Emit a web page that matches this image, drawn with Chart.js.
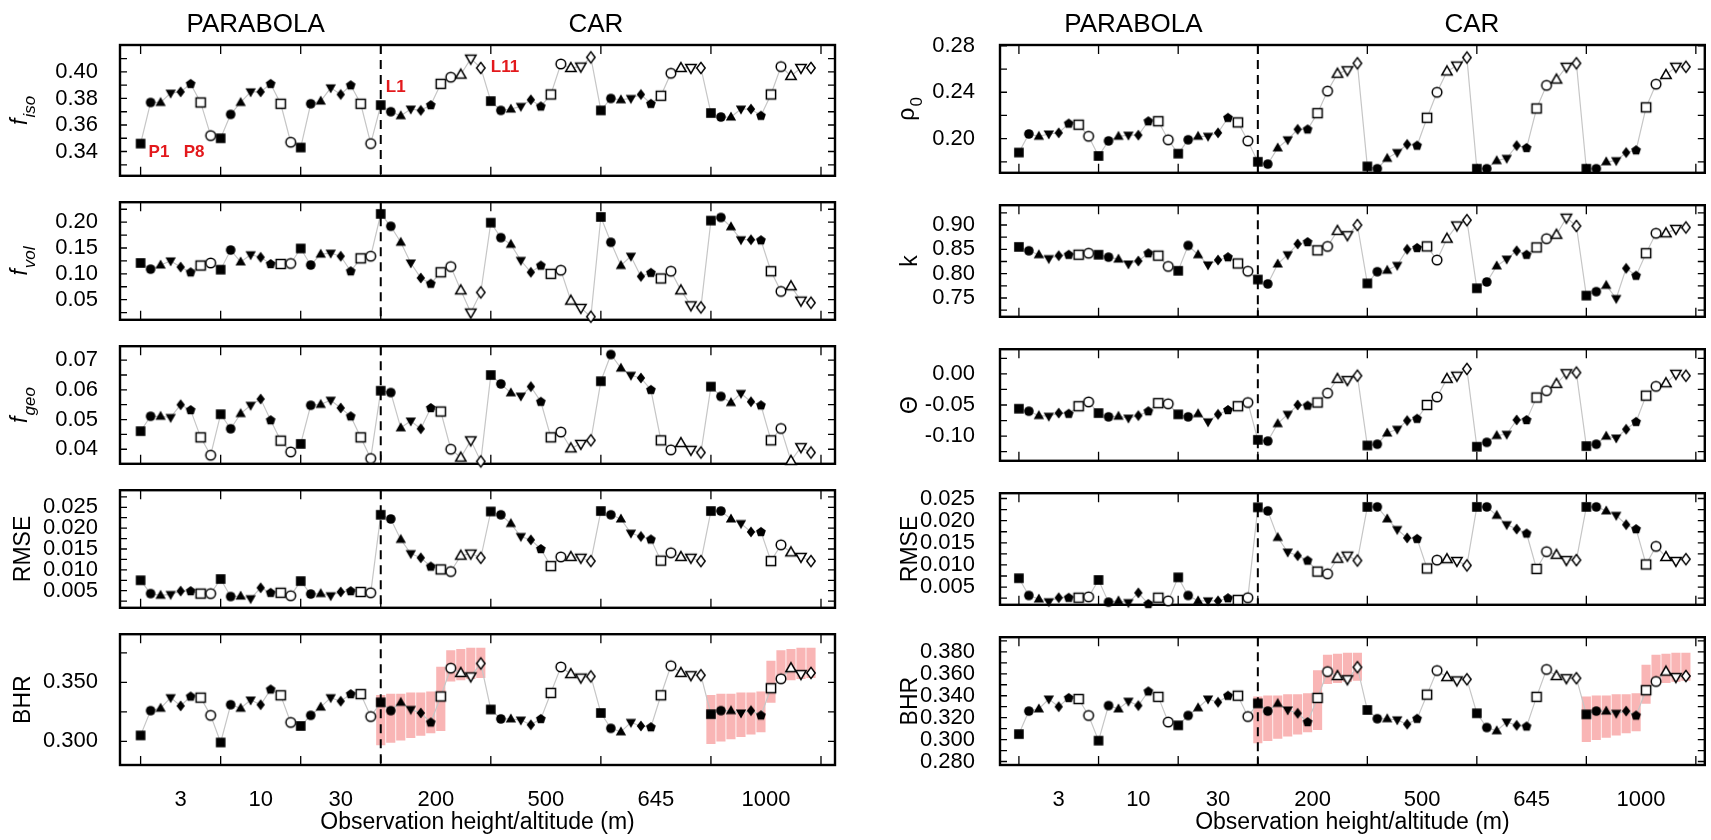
<!DOCTYPE html>
<html>
<head>
<meta charset="utf-8">
<script src="https://cdn.jsdelivr.net/npm/chart.js@4.4.1/dist/chart.umd.min.js"></script>
<style>
  body { margin: 0; background: #fff; width: 1711px; height: 840px; overflow: hidden; position: relative; }
  canvas { position: absolute; }
</style>
</head>
<body>
<script>
// ---- data ----
var parabolaHeights = ['3', '10', '30'];
var carAltitudes = ['200', '500', '645', '1000'];
var parabolaMarkers = ['■', '●', '▲', '▼', '◆', '⬟', '□', '○'];                 // P1..P8
var carMarkers = ['■', '●', '▲', '▼', '◆', '⬟', '□', '○', '△', '▽', '◇'];      // L1..L11
var xTitle = 'Observation height/altitude (m)';

var fIso = [0.346,0.377,0.377,0.384,0.385,0.391,0.377,0.352,
  0.350,0.368,0.377,0.385,0.385,0.391,0.376,0.347,
  0.343,0.376,0.378,0.388,0.383,0.390,0.376,0.346,
  0.375,0.370,0.367,0.372,0.371,0.375,0.391,0.396,0.398,0.410,0.403,
  0.378,0.371,0.372,0.374,0.379,0.374,0.383,0.406,0.403,0.404,0.411,
  0.371,0.380,0.379,0.380,0.383,0.376,0.382,0.399,0.403,0.403,0.403,
  0.369,0.366,0.366,0.372,0.372,0.367,0.383,0.404,0.397,0.403,0.403];
var fVol = [0.121,0.109,0.117,0.125,0.113,0.103,0.116,0.121,
  0.108,0.146,0.123,0.137,0.132,0.119,0.119,0.120,
  0.149,0.117,0.138,0.140,0.134,0.105,0.130,0.134,
  0.216,0.192,0.161,0.121,0.092,0.081,0.103,0.114,0.068,0.025,0.064,
  0.199,0.170,0.157,0.126,0.103,0.116,0.100,0.107,0.048,0.034,0.017,
  0.210,0.161,0.116,0.134,0.095,0.102,0.091,0.105,0.068,0.039,0.035,
  0.203,0.209,0.191,0.166,0.166,0.165,0.105,0.066,0.076,0.048,0.044];
var fGeo = [0.0461,0.0511,0.0511,0.0507,0.0550,0.0532,0.0440,0.0380,
  0.0518,0.0469,0.0520,0.0548,0.0569,0.0498,0.0429,0.0391,
  0.0418,0.0548,0.0551,0.0565,0.0539,0.0511,0.0440,0.0369,
  0.0597,0.0591,0.0472,0.0495,0.0469,0.0539,0.0527,0.0400,0.0372,0.0430,0.0359,
  0.0650,0.0620,0.0590,0.0579,0.0611,0.0560,0.0440,0.0458,0.0403,0.0418,0.0430,
  0.0629,0.0719,0.0673,0.0649,0.0640,0.0600,0.0430,0.0398,0.0421,0.0398,0.0389,
  0.0611,0.0578,0.0557,0.0588,0.0560,0.0548,0.0430,0.0470,0.0361,0.0407,0.0389];
var rmseLeft = [0.0075,0.0043,0.0039,0.0041,0.0049,0.0049,0.0043,0.0043,
  0.0078,0.0036,0.0037,0.0031,0.0057,0.0045,0.0045,0.0038,
  0.0073,0.0042,0.0043,0.0038,0.0047,0.0049,0.0047,0.0045,
  0.0232,0.0222,0.0173,0.0139,0.0129,0.0108,0.0101,0.0096,0.0134,0.0139,0.0129,
  0.0240,0.0232,0.0211,0.0180,0.0172,0.0150,0.0109,0.0131,0.0131,0.0129,0.0121,
  0.0241,0.0232,0.0222,0.0188,0.0180,0.0173,0.0122,0.0141,0.0131,0.0129,0.0121,
  0.0241,0.0241,0.0222,0.0211,0.0191,0.0191,0.0121,0.0160,0.0142,0.0131,0.0121];
var bhr = [0.305,0.326,0.328,0.337,0.330,0.338,0.337,0.322,
  0.299,0.331,0.328,0.335,0.331,0.344,0.339,0.316,
  0.313,0.322,0.329,0.337,0.334,0.340,0.340,0.321,
  0.333,0.326,0.333,0.327,0.324,0.316,0.338,0.362,0.358,0.355,0.366,
  0.327,0.319,0.319,0.318,0.314,0.319,0.341,0.363,0.357,0.354,0.355,
  0.324,0.311,0.308,0.316,0.313,0.312,0.339,0.364,0.358,0.356,0.356,
  0.323,0.326,0.326,0.324,0.326,0.322,0.345,0.353,0.362,0.357,0.358];
var bhrBandLow = [null,null,null,null,null,null,null,null,
  null,null,null,null,null,null,null,null,
  null,null,null,null,null,null,null,null,
  0.297,0.299,0.301,0.303,0.305,0.307,0.309,0.351,0.352,0.353,0.354,
  null,null,null,null,null,null,null,null,null,null,null,
  null,null,null,null,null,null,null,null,null,null,null,
  0.298,0.300,0.302,0.304,0.306,0.308,0.333,0.350,0.352,0.353,0.354];
var bhrBandHigh = [null,null,null,null,null,null,null,null,
  null,null,null,null,null,null,null,null,
  null,null,null,null,null,null,null,null,
  0.339,0.340,0.340,0.341,0.341,0.342,0.363,0.377,0.378,0.379,0.379,
  null,null,null,null,null,null,null,null,null,null,null,
  null,null,null,null,null,null,null,null,null,null,null,
  0.339,0.340,0.340,0.341,0.341,0.342,0.368,0.377,0.378,0.379,0.379];
var rho0 = [0.188,0.204,0.202,0.204,0.205,0.213,0.212,0.202,
  0.185,0.198,0.202,0.203,0.203,0.215,0.215,0.199,
  0.187,0.199,0.202,0.202,0.205,0.218,0.214,0.198,
  0.180,0.178,0.192,0.199,0.208,0.208,0.222,0.241,0.256,0.259,0.265,
  0.176,0.174,0.183,0.188,0.195,0.194,0.218,0.240,0.258,0.263,0.270,
  0.174,0.174,0.181,0.183,0.194,0.192,0.226,0.246,0.251,0.262,0.265,
  0.174,0.174,0.180,0.181,0.188,0.190,0.227,0.247,0.255,0.262,0.262];
var kappa = [0.855,0.847,0.839,0.831,0.837,0.839,0.839,0.842,
  0.839,0.834,0.830,0.820,0.826,0.842,0.837,0.815,
  0.806,0.858,0.839,0.818,0.828,0.834,0.821,0.805,
  0.788,0.779,0.820,0.839,0.861,0.865,0.848,0.856,0.888,0.879,0.900,
  0.780,0.804,0.807,0.817,0.850,0.853,0.856,0.828,0.872,0.899,0.910,
  0.770,0.783,0.816,0.830,0.847,0.839,0.854,0.872,0.880,0.915,0.898,
  0.755,0.763,0.776,0.749,0.811,0.796,0.842,0.883,0.883,0.892,0.895];
var theta = [-0.056,-0.060,-0.067,-0.068,-0.063,-0.064,-0.052,-0.045,
  -0.063,-0.069,-0.068,-0.071,-0.067,-0.060,-0.047,-0.048,
  -0.065,-0.069,-0.064,-0.077,-0.065,-0.058,-0.052,-0.046,
  -0.106,-0.108,-0.080,-0.065,-0.050,-0.051,-0.046,-0.031,-0.008,-0.010,-0.003,
  -0.115,-0.113,-0.095,-0.089,-0.075,-0.072,-0.050,-0.037,-0.008,-0.003,0.008,
  -0.117,-0.110,-0.099,-0.097,-0.074,-0.074,-0.038,-0.027,-0.016,0.001,0.002,
  -0.116,-0.113,-0.100,-0.103,-0.089,-0.077,-0.035,-0.020,-0.015,0.000,-0.003];
var rmseRight = [0.0070,0.0031,0.0023,0.0017,0.0026,0.0026,0.0026,0.0028,
  0.0066,0.0016,0.0019,0.0015,0.0037,0.0012,0.0026,0.0019,
  0.0072,0.0031,0.0019,0.0019,0.0019,0.0025,0.0021,0.0026,
  0.0230,0.0222,0.0162,0.0129,0.0121,0.0110,0.0085,0.0080,0.0114,0.0121,0.0110,
  0.0231,0.0231,0.0204,0.0180,0.0161,0.0159,0.0092,0.0111,0.0113,0.0109,0.0099,
  0.0231,0.0231,0.0212,0.0191,0.0181,0.0171,0.0091,0.0130,0.0123,0.0111,0.0111,
  0.0231,0.0231,0.0222,0.0212,0.0191,0.0181,0.0101,0.0142,0.0118,0.0109,0.0113];

var fIsoTicks = [0.34, 0.36, 0.38, 0.40];
var fVolTicks = [0.05, 0.10, 0.15, 0.20];
var fGeoTicks = [0.04, 0.05, 0.06, 0.07];
var rmseTicks = [0.005, 0.010, 0.015, 0.020, 0.025];
var bhrLeftTicks = [0.300, 0.350];
var rhoTicks = [0.20, 0.24, 0.28];
var kappaTicks = [0.75, 0.80, 0.85, 0.90];
var thetaTicks = [-0.10, -0.05, 0.00];
var bhrRightTicks = [0.280, 0.300, 0.320, 0.340, 0.360, 0.380];

// red labels in the first panel, in data units
var notes = [
  { text: 'P1', x: 0.8, y: 0.3395 },
  { text: 'P8', x: 4.3, y: 0.3395 },
  { text: 'L1', x: 24.5, y: 0.3884 },
  { text: 'L11', x: 35.0, y: 0.4032 }
];

// ---- derived from the groups ----
var markerSeq = [];
var groupSizes = [];
parabolaHeights.forEach(function () { markerSeq = markerSeq.concat(parabolaMarkers); groupSizes.push(parabolaMarkers.length); });
carAltitudes.forEach(function () { markerSeq = markerSeq.concat(carMarkers); groupSizes.push(carMarkers.length); });
var bounds = [0];
groupSizes.forEach(function (n) { bounds.push(bounds[bounds.length - 1] + n); });
var centers = groupSizes.map(function (n, i) { return (bounds[i] + bounds[i + 1]) / 2; });
var xLabels = parabolaHeights.concat(carAltitudes);
var carStart = bounds[parabolaHeights.length];

var FONT = '"Liberation Sans", Arial, sans-serif';
Chart.defaults.font.family = FONT;
Chart.defaults.color = '#000';

function makeMarker(sym) {
  var c = document.createElement('canvas');
  c.width = 16; c.height = 16;
  var g = c.getContext('2d');
  var open = '□○△▽◇'.indexOf(sym) >= 0;
  g.translate(8, 8);
  g.beginPath();
  if (sym === '■') g.rect(-4.8, -4.8, 9.6, 9.6);
  else if (sym === '□') g.rect(-4.6, -4.6, 9.2, 9.2);
  else if (sym === '●' || sym === '○') g.arc(0, 0, 4.8, 0, Math.PI * 2);
  else if (sym === '▲' || sym === '△') { g.moveTo(0, -5.4); g.lineTo(5.2, 3.6); g.lineTo(-5.2, 3.6); g.closePath(); }
  else if (sym === '▼' || sym === '▽') { g.moveTo(0, 5.4); g.lineTo(5.2, -3.6); g.lineTo(-5.2, -3.6); g.closePath(); }
  else if (sym === '◆' || sym === '◇') { g.moveTo(0, -5.6); g.lineTo(4.2, 0); g.lineTo(0, 5.6); g.lineTo(-4.2, 0); g.closePath(); }
  else if (sym === '⬟') {
    for (var i = 0; i < 5; i++) { var a = -Math.PI / 2 + i * 2 * Math.PI / 5; g.lineTo(5.1 * Math.cos(a), 5.1 * Math.sin(a)); }
    g.closePath();
  }
  if (open) { g.fillStyle = '#fff'; g.fill(); g.lineWidth = 1.5; g.strokeStyle = '#000'; g.stroke(); }
  else { g.fillStyle = '#000'; g.fill(); }
  return c;
}
var markerCache = {};
var markerImgs = markerSeq.map(function (s) { return markerCache[s] || (markerCache[s] = makeMarker(s)); });

// ---- layout ----
var rowTops = [45, 189, 333, 477, 621];
var rowH = 144;
var leftCol = { left: 0, width: 850, axisW: 120, padR: 15, xMin: -2.06, xMax: 69.4, titleX: 24, tickPad: 14 };
var rightCol = { left: 855, width: 856, axisW: 145, padR: 1, xMin: -1.9, xMax: 68.9, titleX: 56, tickPad: 17 };

function panel(col, row, p) {
  var isTop = row === 0, isBottom = row === 4;
  var padTop = isTop ? rowTops[0] : 14;
  var cv = document.createElement('canvas');
  cv.width = col.width;
  cv.height = padTop + rowH + (isBottom ? 75 : 14);
  cv.style.left = col.left + 'px';
  cv.style.top = (rowTops[row] - padTop) + 'px';
  document.body.appendChild(cv);

  var yTickVals = [];
  for (var k = Math.ceil(p.min / p.minor - 1e-9); k <= Math.floor(p.max / p.minor + 1e-9); k++) {
    yTickVals.push(+(k * p.minor).toFixed(6));
  }

  var datasets = [{
    type: 'line',
    data: p.values.map(function (v, i) { return { x: i, y: v }; }),
    borderColor: '#c6c6c6', borderWidth: 1.2,
    pointStyle: function (c) { return markerImgs[c.dataIndex]; },
    pointRadius: 5, clip: false, order: 0
  }];
  if (p.band) {
    var band = [];
    bhrBandLow.forEach(function (lo, i) { if (lo !== null) band.push({ x: i, y: [lo, bhrBandHigh[i]] }); });
    datasets.push({ type: 'bar', data: band, backgroundColor: 'rgba(246,150,150,0.7)', barThickness: 8.5, borderWidth: 0, order: 1 });
  }

  var deco = {
    id: 'deco',
    beforeDatasetsDraw: function (chart) {
      var ctx = chart.ctx, a = chart.chartArea, x = chart.scales.x, y = chart.scales.y;
      ctx.save();
      ctx.strokeStyle = '#000';
      ctx.lineWidth = 1.3;
      ctx.beginPath();
      bounds.forEach(function (b) {
        var px = x.getPixelForValue(b);
        ctx.moveTo(px, a.top); ctx.lineTo(px, a.top + 9);
        ctx.moveTo(px, a.bottom); ctx.lineTo(px, a.bottom - 9);
      });
      yTickVals.forEach(function (v) {
        var py = y.getPixelForValue(v);
        ctx.moveTo(a.left, py); ctx.lineTo(a.left + 7, py);
        ctx.moveTo(a.right, py); ctx.lineTo(a.right - 7, py);
      });
      ctx.stroke();
      ctx.lineWidth = 2.4;
      ctx.strokeRect(a.left, a.top, a.right - a.left, a.bottom - a.top);

      // y axis title, rotated, with optional subscript
      ctx.save();
      ctx.translate(col.titleX, (a.top + a.bottom) / 2);
      ctx.rotate(-Math.PI / 2);
      ctx.fillStyle = '#000';
      ctx.textBaseline = 'middle';
      ctx.textAlign = 'left';
      var st = p.title.it ? 'italic ' : '';
      var mainFont = st + '23px ' + FONT, subFont = st + '17px ' + FONT;
      ctx.font = mainFont;
      var w1 = ctx.measureText(p.title.t).width, w2 = 0;
      if (p.title.s) { ctx.font = subFont; w2 = ctx.measureText(p.title.s).width + 1; }
      var x0 = -(w1 + w2) / 2;
      ctx.font = mainFont;
      ctx.fillText(p.title.t, x0, p.title.s ? -3 : 0);
      if (p.title.s) { ctx.font = subFont; ctx.fillText(p.title.s, x0 + w1 + 1, 6); }
      ctx.restore();

      if (isTop) {
        ctx.fillStyle = '#000';
        ctx.font = '26px ' + FONT;
        ctx.textAlign = 'center';
        ctx.textBaseline = 'middle';
        ctx.fillText('PARABOLA', x.getPixelForValue((bounds[0] + carStart - 1) / 2), a.top - 20);
        ctx.fillText('CAR', x.getPixelForValue((carStart + bounds[bounds.length - 1] - 1) / 2), a.top - 20);
      }
      if (p.notes) {
        ctx.fillStyle = '#e3191c';
        ctx.font = 'bold 17px ' + FONT;
        ctx.textAlign = 'left';
        ctx.textBaseline = 'middle';
        p.notes.forEach(function (n) { ctx.fillText(n.text, x.getPixelForValue(n.x), y.getPixelForValue(n.y)); });
      }
      ctx.restore();
    },
    afterDatasetsDraw: function (chart) {
      var ctx = chart.ctx, a = chart.chartArea, px = chart.scales.x.getPixelForValue(carStart);
      ctx.save();
      ctx.strokeStyle = '#000';
      ctx.lineWidth = 2;
      ctx.setLineDash([9, 6]);
      ctx.beginPath();
      ctx.moveTo(px, a.top); ctx.lineTo(px, a.bottom);
      ctx.stroke();
      ctx.restore();
    }
  };

  new Chart(cv, {
    type: 'line',
    data: { datasets: datasets },
    options: {
      responsive: false, animation: false, events: [], devicePixelRatio: 1,
      layout: { padding: { top: padTop, bottom: isBottom ? 0 : 14, left: 0, right: col.padR } },
      plugins: { legend: { display: false }, tooltip: { enabled: false } },
      scales: {
        x: {
          type: 'linear', min: col.xMin, max: col.xMax, offset: false, display: isBottom,
          grid: { display: false }, border: { display: false },
          afterBuildTicks: function (s) { s.ticks = centers.map(function (v) { return { value: v }; }); },
          afterFit: function (s) { if (isBottom) s.height = 75; },
          ticks: { autoSkip: false, maxRotation: 0, padding: 14, font: { size: 22 },
            callback: function (v, i) { return xLabels[i]; } },
          title: { display: true, text: xTitle, font: { size: 23 }, padding: { top: 0, bottom: 4 } }
        },
        y: {
          type: 'linear', min: p.min, max: p.max,
          grid: { display: false }, border: { display: false },
          afterFit: function (s) { s.width = col.axisW; },
          afterBuildTicks: function (s) { s.ticks = yTickVals.map(function (v) { return { value: v }; }); },
          ticks: { autoSkip: false, padding: col.tickPad, font: { size: 22 },
            callback: function (v) {
              var hit = p.major.some(function (m) { return Math.abs(m - v) < 1e-9; });
              return hit ? v.toFixed(p.dec) : '';
            } }
        }
      }
    },
    plugins: [deco]
  });
}

var leftPanels = [
  { values: fIso, min: 0.3217, max: 0.4203, major: fIsoTicks, minor: 0.01, dec: 2, title: { t: 'f', s: 'iso', it: true }, notes: notes },
  { values: fVol, min: 0.011, max: 0.2386, major: fVolTicks, minor: 0.025, dec: 2, title: { t: 'f', s: 'vol', it: true } },
  { values: fGeo, min: 0.0351, max: 0.0747, major: fGeoTicks, minor: 0.005, dec: 2, title: { t: 'f', s: 'geo', it: true } },
  { values: rmseLeft, min: 0.0009, max: 0.0291, major: rmseTicks, minor: 0.0025, dec: 3, title: { t: 'RMSE' } },
  { values: bhr, min: 0.2799, max: 0.3908, major: bhrLeftTicks, minor: 0.025, dec: 3, title: { t: 'BHR' }, band: true }
];
var rightPanels = [
  { values: rho0, min: 0.1705, max: 0.2808, major: rhoTicks, minor: 0.02, dec: 2, title: { t: 'ρ', s: '0' } },
  { values: kappa, min: 0.7114, max: 0.9407, major: kappaTicks, minor: 0.025, dec: 2, title: { t: 'k' } },
  { values: theta, min: -0.1396, max: 0.0396, major: thetaTicks, minor: 0.025, dec: 2, title: { t: 'Θ' } },
  { values: rmseRight, min: 0.001, max: 0.0262, major: rmseTicks, minor: 0.0025, dec: 3, title: { t: 'RMSE' } },
  { values: bhr, min: 0.2768, max: 0.3934, major: bhrRightTicks, minor: 0.01, dec: 3, title: { t: 'BHR' }, band: true }
];
leftPanels.forEach(function (p, i) { panel(leftCol, i, p); });
rightPanels.forEach(function (p, i) { panel(rightCol, i, p); });
</script>
</body>
</html>
